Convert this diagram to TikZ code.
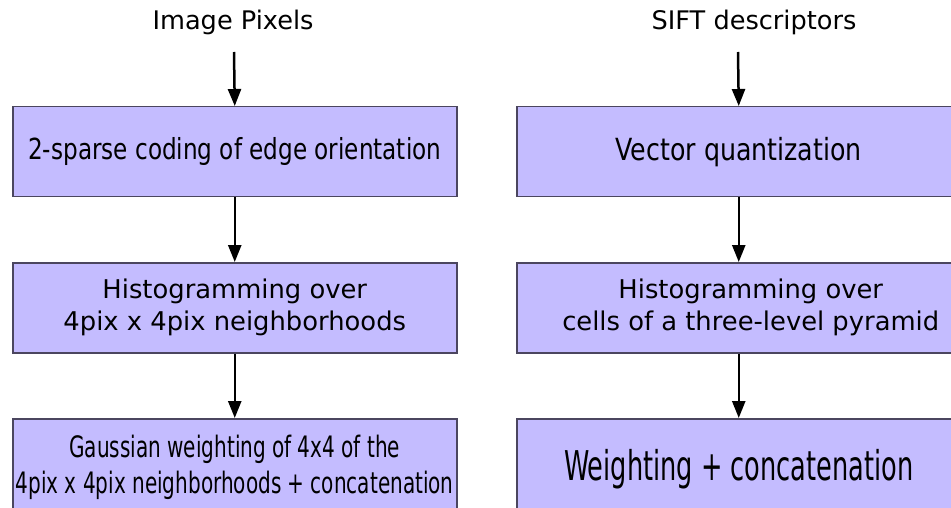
\documentclass[tikz,border=0pt]{standalone}
\usepackage{fontspec}
\usepackage{graphicx}
\setmainfont{DejaVu Sans}
\newfontfamily\cond{DejaVu Sans Condensed}
\usetikzlibrary{arrows.meta}
\definecolor{boxfill}{RGB}{196,188,255}
\definecolor{boxline}{RGB}{75,70,95}
\newcommand{\fitw}[2]{\resizebox{#1}{\height}{#2}}
\begin{document}
\begin{tikzpicture}[x=1pt,y=-1pt,
  stage/.style={draw=boxline, line width=1.5pt, fill=boxfill, minimum width=444pt,
    minimum height=90pt, inner sep=0pt, anchor=north west},
  lowstage/.style={stage, minimum height=100pt},
  flow/.style={line width=2.5pt, -{Triangle[length=17pt,width=13pt]}},
  title/.style={font=\fontsize{25.6}{31}\selectfont, inner sep=0pt}]
\fill[white] (0,0) rectangle (951,508);
\clip (0,0) rectangle (951,508);
% titles
\node[title] (t1) at (233,22) {Image Pixels};
\node[title] (t2) at (754,22) {SIFT descriptors};
\coordinate (s1) at (234,52);
\coordinate (s2) at (738,52);
% left column
\node[stage] (l1) at (12,106)
  {\raisebox{-2pt}{\fitw{413pt}{\cond\fontsize{29}{34}\selectfont 2-sparse coding of edge orientation}}};
\node[stage] (l2) at (12,262)
  {\fontsize{25.8}{32}\selectfont\begin{tabular}{@{}c@{}}Histogramming over\\4pix x 4pix neighborhoods\end{tabular}};
\node[lowstage] (l3) at (12,418)
  {\raisebox{7pt}{\fitw{438pt}{\cond\fontsize{29.5}{36}\selectfont\begin{tabular}{@{}c@{}}Gaussian weighting of 4x4 of the\\4pix x 4pix neighborhoods + concatenation\end{tabular}}}};
% right column
\node[stage] (r1) at (516,106)
  {\raisebox{-2pt}{\fitw{246pt}{\cond\fontsize{30.5}{36}\selectfont Vector quantization}}};
\node[stage] (r2) at (516,262)
  {\hspace*{24pt}\fontsize{25.8}{32}\selectfont\begin{tabular}{@{}c@{}}Histogramming over\\cells of a three-level pyramid\end{tabular}};
\node[lowstage] (r3) at (516,418)
  {\raisebox{5pt}{\fitw{349pt}{\cond\fontsize{41}{44}\selectfont Weighting + concatenation}}};
% connectors
\draw[flow] (s1) -- (l1.north);
\draw[flow] (l1.south) -- (l2.north);
\draw[flow] (l2.south) -- (l3.north);
\draw[flow] (s2) -- (r1.north);
\draw[flow] (r1.south) -- (r2.north);
\draw[flow] (r2.south) -- (r3.north);
\end{tikzpicture}
\end{document}
